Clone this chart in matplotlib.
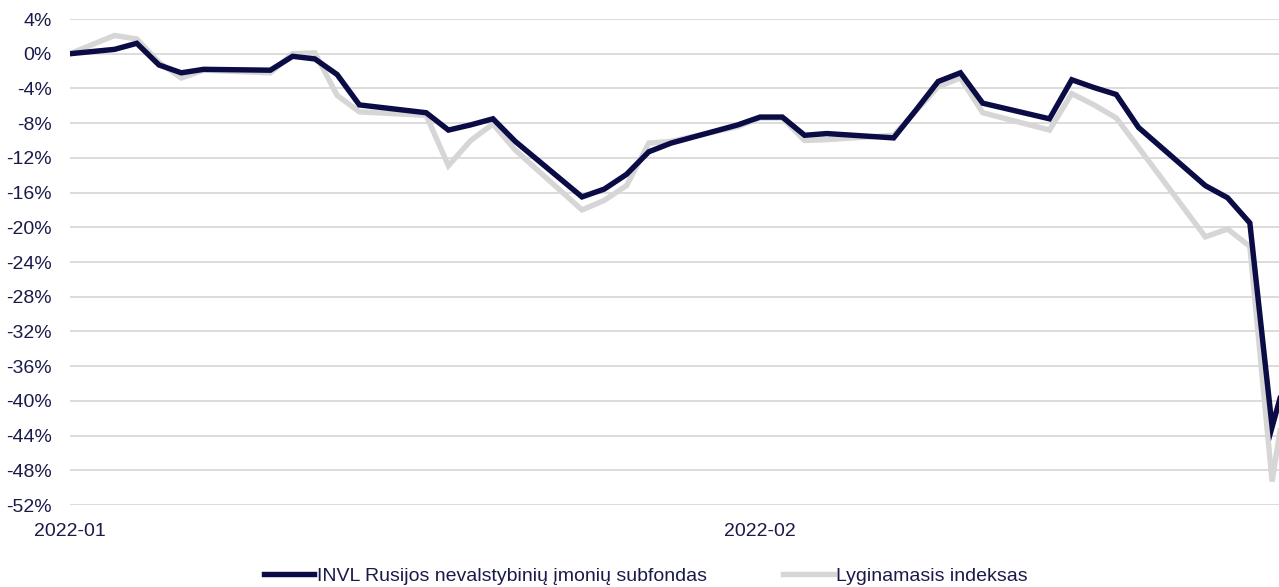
import matplotlib
matplotlib.use("Agg")
import matplotlib.pyplot as plt
import matplotlib.dates as mdates
import numpy as np
import pandas as pd

plt.rcParams['font.family'] = ['Liberation Sans', 'DejaVu Sans']
plt.rcParams['font.size'] = 14

dates = pd.to_datetime([
    "2022-01-01", "2022-01-03", "2022-01-04", "2022-01-05", "2022-01-06", "2022-01-07",
    "2022-01-10", "2022-01-11", "2022-01-12", "2022-01-13", "2022-01-14",
    "2022-01-17", "2022-01-18", "2022-01-19", "2022-01-20", "2022-01-21",
    "2022-01-24", "2022-01-25", "2022-01-26", "2022-01-27", "2022-01-28",
    "2022-01-31", "2022-02-01", "2022-02-02", "2022-02-03", "2022-02-04",
    "2022-02-07", "2022-02-08", "2022-02-09", "2022-02-10", "2022-02-11",
    "2022-02-14", "2022-02-15", "2022-02-16", "2022-02-17", "2022-02-18",
    "2022-02-21", "2022-02-22", "2022-02-23", "2022-02-24", "2022-02-25",
])

fund = [
    0.0, 0.5, 1.2, -1.3, -2.2, -1.8,
    -1.9, -0.3, -0.6, -2.4, -5.9,
    -6.8, -8.8, -8.2, -7.5, -10.1,
    -16.5, -15.6, -13.9, -11.3, -10.3,
    -8.2, -7.3, -7.3, -9.4, -9.2,
    -9.7, -6.5, -3.2, -2.2, -5.7,
    -7.5, -3.0, -3.9, -4.7, -8.5,
    -15.2, -16.6, -19.5, -43.0, -33.8,
]

index = [
    0.0, 2.1, 1.7, -1.0, -2.8, -1.9,
    -2.2, 0.0, 0.1, -4.8, -6.7,
    -7.1, -12.9, -10.0, -8.1, -11.1,
    -18.0, -16.9, -15.2, -10.3, -10.1,
    -8.4, -7.4, -7.4, -10.0, -9.9,
    -9.4, -6.6, -3.8, -2.8, -6.8,
    -8.8, -4.6, -5.9, -7.4, -10.8,
    -21.1, -20.2, -22.2, -49.3, -32.8,
]

y_ticks = np.arange(-52, 5, 4)

navy = '#0b0b45'
grey = '#d6d6d6'
text_col = '#1a1a4a'

fig = plt.figure(figsize=(12.79, 5.87), dpi=100)
ax = fig.add_axes([70 / 1279, 1 - 505 / 587, 1 - 70 / 1279, (505 - 19) / 587])

ax.plot(dates, fund, color=navy, linewidth=3.9, solid_joinstyle='miter',
        label='INVL Rusijos nevalstybinių įmonių subfondas', zorder=3)
ax.plot(dates, index, color=grey, linewidth=3.9, solid_joinstyle='miter',
        label='Lyginamasis indeksas', zorder=2)

x0 = pd.Timestamp("2022-01-01")
ax.set_xlim(x0, x0 + pd.Timedelta(days=54.31))
ax.set_ylim(-52, 4)
ax.set_yticks(y_ticks)
ax.set_yticklabels([f'{v}%' for v in y_ticks], color=text_col, fontsize=14)

ax.xaxis.set_major_locator(mdates.MonthLocator())
ax.xaxis.set_major_formatter(mdates.DateFormatter('%Y-%m'))
for lbl in ax.get_xticklabels():
    lbl.set_color(text_col)
    lbl.set_fontsize(14)

ax.tick_params(axis='both', length=0)
ax.tick_params(axis='y', pad=13)
ax.tick_params(axis='x', pad=13)
ax.grid(axis='y', color='#d9d9d9', linewidth=1.3)
ax.set_axisbelow(True)
for s in ax.spines.values():
    s.set_visible(False)

leg = fig.legend(loc='center', bbox_to_anchor=(0.505, 1 - 576 / 587), ncol=2,
                 frameon=False, handlelength=2.6, handletextpad=0.15,
                 columnspacing=3.9, fontsize=14)
for t in leg.get_texts():
    t.set_color(text_col)

fig.savefig('out.png', dpi=100, facecolor='white')
